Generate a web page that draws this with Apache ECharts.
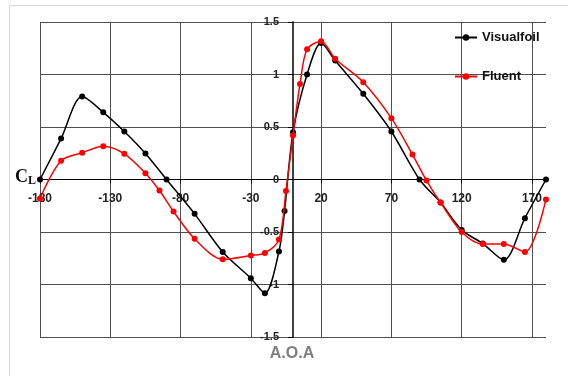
<!DOCTYPE html>
<html>
<head>
<meta charset="utf-8">
<script src="https://cdn.jsdelivr.net/npm/echarts@6/dist/echarts.min.js"></script>
<style>
html,body{margin:0;padding:0;background:#fff;}
#chart{width:568px;height:376px;}
</style>
</head>
<body>
<div id="chart"></div>
<script>
// Angle of attack (deg) and lift coefficient values
const visualfoilAoa = [-180,-165,-150,-135,-120,-105,-90,-70,-50,-30,-20,-10,-6,0,10,20,30,50,70,90,105,120,135,150,165,180];
const visualfoilCl  = [0,0.39,0.79,0.64,0.457,0.248,0,-0.327,-0.69,-0.94,-1.083,-0.686,-0.30,0.45,1.0,1.30,1.133,0.816,0.457,0,-0.22,-0.48,-0.61,-0.765,-0.368,0];
const fluentAoa = [-180,-165,-150,-135,-120,-105,-95,-85,-70,-50,-30,-20,-10,-5,0,5,10,20,30,50,70,85,95,105,120,135,150,165,180];
const fluentCl  = [-0.18,0.178,0.254,0.317,0.245,0.06,-0.105,-0.305,-0.565,-0.76,-0.724,-0.70,-0.571,-0.11,0.42,0.91,1.24,1.317,1.15,0.927,0.584,0.238,-0.01,-0.22,-0.50,-0.615,-0.615,-0.69,-0.19];
const xTicks = [-180,-130,-80,-30,20,70,120,170];
const yTicks = [-1.5,-1,-0.5,0,0.5,1,1.5];
const seriesNames = ['Visualfoil','Fluent'];

const W = 568, H = 376;
const G = {left:40, right:22, top:22, bottom:39};
const xMin = -180, xMax = 180, yMin = -1.5, yMax = 1.5;
// axes cross at zero: shift each axis from its grid edge to the zero of the other axis
const plotW = W - G.left - G.right, plotH = H - G.top - G.bottom;
const yAxisShift = -plotW * (0 - xMin) / (xMax - xMin);
const xAxisShift = -plotH * (0 - yMin) / (yMax - yMin);

const chart = echarts.init(document.getElementById('chart'), null, {renderer:'canvas'});
const pair = (xs, ys) => xs.map((x,i)=>[x, ys[i]]);
const gridColor = '#505050';
chart.setOption({
  animation:false,
  backgroundColor:'#fff',
  grid:G,
  legend:{
    orient:'vertical', left:449, top:26, itemWidth:22, itemHeight:8, itemGap:26,
    textStyle:{fontFamily:'Liberation Sans', fontWeight:'bold', fontSize:13, color:'#111'},
    data:seriesNames
  },
  xAxis:{
    type:'value', min:xMin, max:xMax, offset:xAxisShift,
    axisLine:{onZero:false, lineStyle:{color:'#000', width:1}},
    axisTick:{show:true, length:4, customValues:xTicks, lineStyle:{color:'#000'}},
    axisLabel:{customValues:xTicks, margin:13, fontFamily:'Liberation Sans', fontWeight:'bold', fontSize:12, color:'#222',
      formatter:v=>String(v)},
    splitLine:{show:true, lineStyle:{color:gridColor, width:1}}
  },
  yAxis:{
    type:'value', min:yMin, max:yMax, interval:0.5, offset:yAxisShift,
    axisLine:{show:true, onZero:false, lineStyle:{color:'#000', width:1.5}},
    axisTick:{show:true, length:5, lineStyle:{color:'#000'}},
    axisLabel:{margin:14, fontFamily:'Liberation Sans', fontWeight:'bold', fontSize:11, color:'#222',
      formatter:v=>String(v)},
    splitLine:{show:true, lineStyle:{color:gridColor, width:1}}
  },
  series:[
    {name:seriesNames[0], type:'line', data:pair(visualfoilAoa, visualfoilCl), smooth:0.3,
     symbol:'circle', symbolSize:6, itemStyle:{color:'#000'}, lineStyle:{color:'#000', width:1.5}, z:3},
    {name:seriesNames[1], type:'line', data:pair(fluentAoa, fluentCl), smooth:0.3,
     symbol:'circle', symbolSize:6, itemStyle:{color:'#ff0000'}, lineStyle:{color:'#ff0000', width:1.5}, z:4}
  ],
  graphic:[
    {type:'rect', left:7, top:3, shape:{width:600, height:400}, style:{fill:'none', stroke:'#d9d9d9', lineWidth:1}, silent:true, z:-10},
    {type:'text', left:15, top:168, style:{
      text:'{c|C}{l|L}',
      rich:{c:{fontFamily:'Liberation Serif', fontWeight:'bold', fontSize:18, fill:'#111'},
            l:{fontFamily:'Liberation Serif', fontWeight:'bold', fontSize:12, fill:'#111', padding:[8,0,0,0]}}
    }},
    {type:'text', x:292, y:346, style:{
      text:'A.O.A', font:'bold 16px "Liberation Sans"', fill:'#7f7f7f', align:'center'}}
  ]
});
</script>
</body>
</html>
